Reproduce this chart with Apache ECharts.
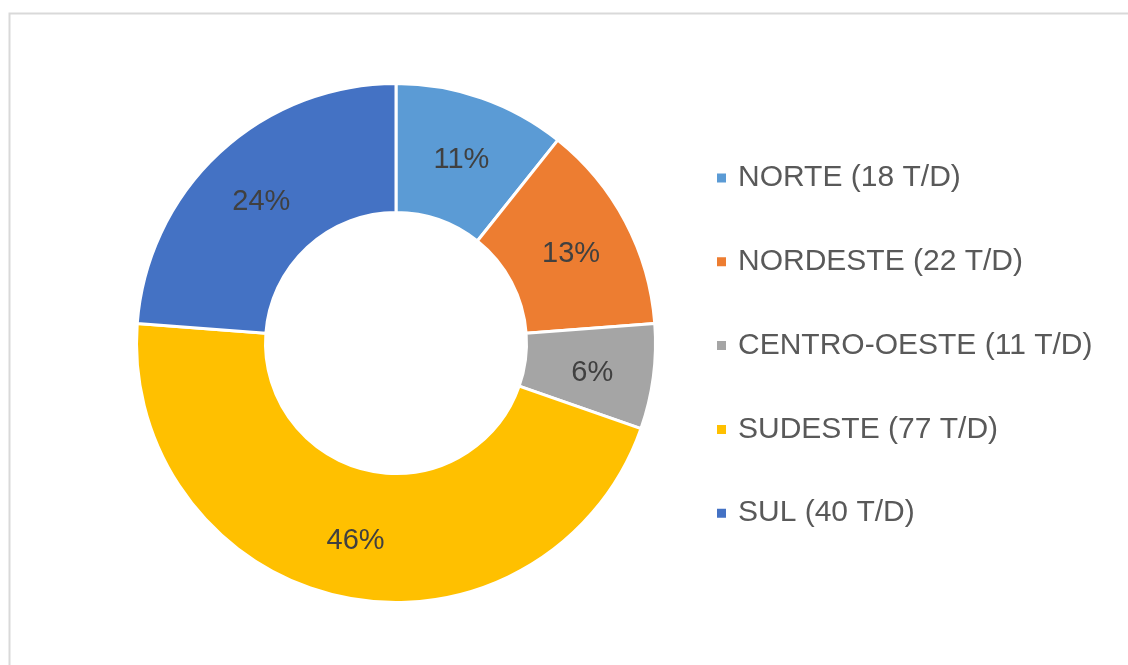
<!DOCTYPE html>
<html>
<head>
<meta charset="utf-8">
<script src="https://cdn.jsdelivr.net/npm/echarts@6/dist/echarts.min.js"></script>
<style>
  html, body { margin: 0; padding: 0; background: #fff; }
  #chart { width: 1128px; height: 665px; }
</style>
</head>
<body>
<div id="chart"></div>
<script>
// regiões e toneladas por dia
var regioes = ['NORTE (18 T/D)', 'NORDESTE (22 T/D)', 'CENTRO-OESTE (11 T/D)', 'SUDESTE (77 T/D)', 'SUL (40 T/D)'];
var valores = [18, 22, 11, 77, 40];
var cores = ['#5B9BD5', '#ED7D31', '#A5A5A5', '#FFC000', '#4472C4'];

var myChart = echarts.init(document.getElementById('chart'));
var dados = regioes.map(function (nome, i) {
  return { name: nome, value: valores[i], itemStyle: { color: cores[i] } };
});

myChart.setOption({
  animation: false,
  graphic: [{
    type: 'rect',
    shape: { x: 9.5, y: 13.5, width: 1300, height: 800 },
    style: { fill: 'none', stroke: '#d9d9d9', lineWidth: 2 },
    silent: true
  }],
  legend: {
    orient: 'vertical',
    left: 710,
    top: 158,
    icon: 'rect',
    itemWidth: 11,
    itemHeight: 11,
    itemGap: 53.8,
    data: regioes,
    textStyle: {
      fontFamily: 'Liberation Sans, Arial, sans-serif',
      fontSize: 30,
      lineHeight: 30,
      color: '#595959',
      padding: [0, 0, 0, 6]
    }
  },
  series: [{
    type: 'pie',
    center: [396, 343],
    radius: [130.5, 259.5],
    startAngle: 90,
    clockwise: true,
    percentPrecision: 0,
    itemStyle: { borderColor: '#fff', borderWidth: 3 },
    label: {
      show: true,
      position: 'inside',
      formatter: '{d}%',
      offset: [0, 4],
      fontFamily: 'Liberation Sans, Arial, sans-serif',
      fontSize: 29,
      color: '#404040'
    },
    labelLine: { show: false },
    emphasis: { disabled: true },
    data: dados
  }]
});
</script>
</body>
</html>
